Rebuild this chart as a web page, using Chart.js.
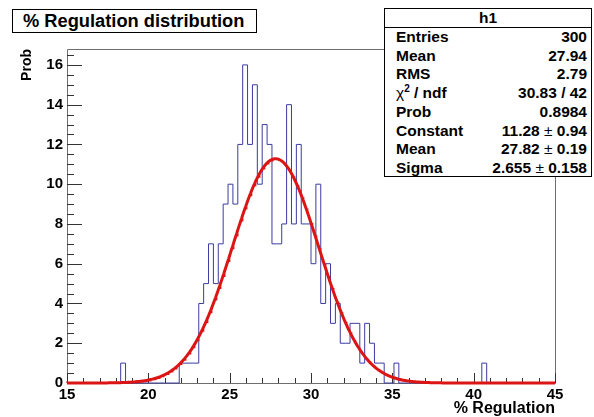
<!DOCTYPE html>
<html>
<head>
<meta charset="utf-8">
<script src="https://cdn.jsdelivr.net/npm/chart.js@4.4.1/dist/chart.umd.min.js"></script>
<style>
  html, body { margin: 0; padding: 0; background: #ffffff; }
  #wrap { position: relative; width: 594px; height: 417px; overflow: hidden; background: #fff;
          font-family: "Liberation Sans", Arial, Helvetica, sans-serif; font-weight: bold; color: #000; }
  #c { position: absolute; left: 0; top: 0; }
  #titleBox { position: absolute; left: 12px; top: 9px; width: 245px; height: 24px; box-sizing: border-box;
              border: 1px solid #000; background: #fff; font-size: 18.3px; line-height: 22px; padding-left: 10px; white-space: nowrap; }
  #stats { position: absolute; left: 384px; top: 8px; width: 208px; height: 169px; box-sizing: border-box;
           border: 1px solid #000; background: #fff; font-size: 15.5px; }
  #stats .hdr { position: absolute; left: 0; right: 0; top: 0; height: 18px; border-bottom: 1px solid #000;
                text-align: center; line-height: 18px; }
  #stats .row { position: absolute; left: 11px; right: 4px; height: 18px; line-height: 18px; white-space: nowrap; }
  #stats .row .v { position: absolute; right: 0; top: 0; }
  .pm, .chi { font-weight: normal; }
  sup { font-size: 10px; line-height: 0; }
</style>
</head>
<body>
<div id="wrap">
  <canvas id="c" width="594" height="417"></canvas>
  <div id="titleBox">% Regulation distribution</div>
  <div id="stats"></div>
</div>
<script>
// ---------- data ----------
const xMin = 15;
const xMax = 45;
const nBins = 100;
const binCounts = [
  0, 0, 0, 0, 0, 0, 0, 0, 0, 0,
  0, 0, 1, 0, 0, 0, 0, 0, 0, 0,
  0, 0, 0, 0, 1, 1, 1, 1, 4, 5,
  7, 5, 7, 9, 10, 9, 12, 16, 12, 15,
  10, 13, 12, 7, 7, 8, 14, 8, 12, 8,
  8, 6, 10, 4, 6, 3, 4, 2, 2, 3,
  3, 1, 3, 2, 1, 1, 0, 0, 1, 0,
  0, 0, 0, 0, 0, 0, 0, 0, 0, 0,
  0, 0, 0, 0, 0, 0, 1, 0, 0, 0,
  0, 0, 0, 0, 0, 0, 0, 0, 0, 0
];
// Gaussian fit parameters (from the stats box)
const fitConstant = 11.28;
const fitMean = 27.82;
const fitSigma = 2.655;

const xTickValues = [15, 20, 25, 30, 35, 40, 45];
const yTickValues = [0, 2, 4, 6, 8, 10, 12, 14, 16];

const statsLabels = ["Entries", "Mean", "RMS", "χ² / ndf", "Prob", "Constant", "Mean", "Sigma"];
const statsValues = ["300", "27.94", "2.79", "30.83 / 42", "0.8984", "11.28 ± 0.94", "27.82 ± 0.19", "2.655 ± 0.158"];

// ---------- build datasets ----------
const binWidth = (xMax - xMin) / nBins;
const histPoints = binCounts.map((c, k) => ({ x: xMin + k * binWidth, y: c }));
histPoints.push({ x: xMax, y: binCounts[nBins - 1] });

const fitPoints = [];
const nFit = 600;
for (let i = 0; i <= nFit; i++) {
  const x = xMin + (xMax - xMin) * i / nFit;
  const z = (x - fitMean) / fitSigma;
  fitPoints.push({ x: x, y: fitConstant * Math.exp(-0.5 * z * z) });
}

// ---------- stats box ----------
const stats = document.getElementById('stats');
const hdr = document.createElement('div');
hdr.className = 'hdr'; hdr.textContent = 'h1';
stats.appendChild(hdr);
statsLabels.forEach((lab, i) => {
  const r = document.createElement('div');
  r.className = 'row';
  r.style.top = (19 + i * 18.7) + 'px';
  const l = document.createElement('span');
  if (lab.startsWith('χ')) {
    l.innerHTML = '<span class="chi">χ</span><sup>2</sup> / ndf';
  } else {
    l.textContent = lab;
  }
  const v = document.createElement('span');
  v.className = 'v';
  v.innerHTML = statsValues[i].replace('±', '<span class="pm">±</span>');
  r.appendChild(l); r.appendChild(v);
  stats.appendChild(r);
});

// ---------- frame & tick marks plugin ----------
const frameTicks = {
  id: 'frameTicks',
  beforeDatasetsDraw(chart) {
    const { ctx, chartArea: a, scales: { x, y } } = chart;
    ctx.save();
    ctx.strokeStyle = '#6e6e6e';
    ctx.lineWidth = 1;
    ctx.beginPath();
    ctx.rect(Math.round(a.left) + 0.5, Math.round(a.top) + 0.5,
             Math.round(a.right - a.left), Math.round(a.bottom - a.top));
    ctx.stroke();
    ctx.strokeStyle = '#333';
    ctx.beginPath();
    // x ticks: major every 5, minor every 1
    for (let v = xMin; v <= xMax + 1e-9; v += 1) {
      const px = Math.round(x.getPixelForValue(v)) + 0.5;
      const len = (Math.abs(v % 5) < 1e-9) ? 10 : 5;
      ctx.moveTo(px, a.bottom);
      ctx.lineTo(px, a.bottom - len);
    }
    // y ticks: major every 2, minor every 0.5
    for (let v = 0; v <= y.max + 1e-9; v += 0.5) {
      const py = Math.round(y.getPixelForValue(v)) + 0.5;
      const len = (Math.abs(v % 2) < 1e-9) ? 15 : 7;
      ctx.moveTo(a.left, py);
      ctx.lineTo(a.left + len, py);
    }
    ctx.stroke();
    ctx.restore();
  }
};

const tickFont = { family: '"Liberation Sans", Arial, sans-serif', size: 15, weight: 'bold', lineHeight: 1 };
const xTitleFont = { family: '"Liberation Sans", Arial, sans-serif', size: 16, weight: 'bold', lineHeight: 1 };
const yTitleFont = { family: '"Liberation Sans", Arial, sans-serif', size: 14, weight: 'bold', lineHeight: 1 };

new Chart(document.getElementById('c'), {
  type: 'line',
  data: {
    datasets: [
      {
        label: 'fit',
        data: fitPoints,
        borderColor: '#dc1414',
        borderWidth: 3,
        pointRadius: 0,
        tension: 0,
        fill: false,
        clip: 4,
        order: 0
      },
      {
        label: 'h1',
        data: histPoints,
        borderColor: '#3c3ca0',
        borderWidth: 1,
        pointRadius: 0,
        stepped: 'after',
        fill: false,
        clip: 2,
        order: 1
      }
    ]
  },
  options: {
    responsive: false,
    devicePixelRatio: 1,
    animation: false,
    events: [],
    layout: { padding: { left: 0, right: 39, top: 49, bottom: 0 } },
    plugins: { legend: { display: false }, tooltip: { enabled: false }, title: { display: false } },
    scales: {
      x: {
        type: 'linear',
        min: xMin, max: xMax,
        afterBuildTicks(s) { s.ticks = xTickValues.map(v => ({ value: v })); },
        afterFit(s) { s.height = 34; },
        grid: { display: false, drawTicks: false },
        border: { display: false },
        ticks: { color: '#000', font: tickFont, padding: 4, maxRotation: 0, autoSkip: false },
        title: { display: true, text: '% Regulation', align: 'end', color: '#000',
                 font: xTitleFont, padding: { top: 0, bottom: 0 } }
      },
      y: {
        type: 'linear',
        min: 0, max: 16.8,
        afterBuildTicks(s) { s.ticks = yTickValues.map(v => ({ value: v })); },
        afterFit(s) { s.width = 67; },
        grid: { display: false, drawTicks: false },
        border: { display: false },
        ticks: { color: '#000', font: tickFont, padding: 4, autoSkip: false },
        title: { display: true, text: 'Prob', align: 'end', color: '#000',
                 font: yTitleFont, padding: { top: 20, bottom: 0 } }
      }
    }
  },
  plugins: [frameTicks]
});
</script>
</body>
</html>
